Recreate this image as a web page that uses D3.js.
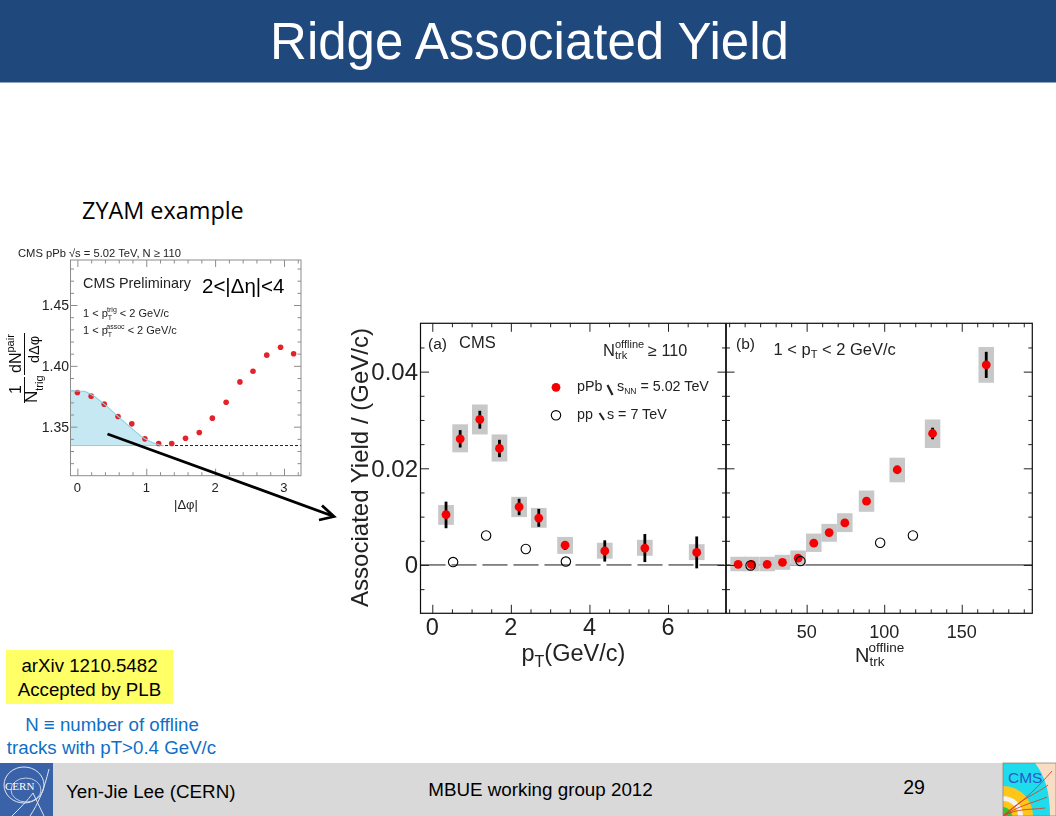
<!DOCTYPE html>
<html><head><meta charset="utf-8"><script src="https://cdn.jsdelivr.net/npm/d3@7"></script>
<style>html,body{margin:0;padding:0;background:#fff;overflow:hidden}svg{display:block}text{font-family:"Liberation Sans",Arial,sans-serif}</style></head><body>
<svg id="c" width="1056" height="816"></svg>
<script>
// ZYAM example panel
const phi=[0,0.2,0.39,0.59,0.79,0.98,1.18,1.37,1.57,1.77,1.96,2.16,2.36,2.55,2.75,2.95,3.14];
const corr=[1.3781,1.3751,1.3685,1.3584,1.3523,1.340,1.3362,1.3362,1.3405,1.3452,1.357,1.3701,1.3868,1.3956,1.4088,1.4153,1.4099];
const zyamLevel=1.3345;
const fitPhi=[-0.1,0.1,0.2,0.39,0.59,0.79,0.98,1.18,1.25];
const fitVal=[1.3795,1.379,1.3765,1.3685,1.3584,1.3485,1.3400,1.3352,1.3345];
const zyamYTicks=[1.35,1.40,1.45];
const zyamXTicks=[0,1,2,3];
// Panel (a): yield vs pT
const ptA=[0.35,0.71,1.21,1.71,2.21,2.71,3.38,4.39,5.41,6.73];
const yieldA=[0.0104,0.0261,0.0301,0.0241,0.012,0.0097,0.0041,0.0029,0.0035,0.0026];
const statLoA=[0.0076,0.0243,0.0282,0.0223,0.0103,0.0079,0.0031,0.0007,0.0006,-0.0007];
const statHiA=[0.0131,0.0279,0.0319,0.0259,0.0137,0.0116,0.0049,0.0051,0.0064,0.0059];
const sysLoA=[0.0083,0.0233,0.027,0.0214,0.0099,0.0077,0.0023,0.0013,0.0019,0.001];
const sysHiA=[0.0124,0.0291,0.0332,0.027,0.0141,0.0118,0.0058,0.0046,0.0052,0.0043];
const ppPtA=[0.53,1.37,2.38,3.40];
const ppYieldA=[0.0006,0.0061,0.0033,0.0007];
// Panel (b): yield vs Ntrk
const nB=[5.8,14.4,24.5,34.4,44.5,54.6,64.5,74.6,88.6,108.4,131.2,165.8];
const yieldB=[0.00014,0.0001,0.00014,0.00055,0.0014,0.0045,0.0067,0.0087,0.0132,0.0197,0.0272,0.0414];
const statLoB=[0.00014,0.0001,0.00014,0.00055,0.0014,0.0045,0.0067,0.0087,0.0132,0.0197,0.026,0.0387];
const statHiB=[0.00014,0.0001,0.00014,0.00055,0.0014,0.0045,0.0067,0.0087,0.0132,0.0197,0.0284,0.0441];
const sysLoB=[-0.0013,-0.0013,-0.0013,-0.001,-0.0001,0.0027,0.0048,0.0068,0.011,0.0171,0.0242,0.0377];
const sysHiB=[0.0017,0.0017,0.0017,0.0021,0.003,0.0065,0.0085,0.0107,0.0154,0.0222,0.0301,0.0451];
const ppNB=[13.8,46,97.4,118.5];
const ppYieldB=[-0.0001,0.0008,0.0046,0.0061];
const yTicks=[0,0.02,0.04];
const yTickLabels=["0","0.02","0.04"];
const xTicksA=[0,2,4,6];
const xTicksB=[50,100,150];

const svg=d3.select("#c");
const FONT='"Liberation Sans",Arial,sans-serif';
const defs=svg.append("defs");
defs.append("filter").attr("id","soft").attr("x","-5%").attr("y","-5%").attr("width","110%").attr("height","110%").append("feGaussianBlur").attr("stdDeviation",0.45);
defs.append("filter").attr("id","soft2").attr("x","-5%").attr("y","-5%").attr("width","110%").attr("height","110%").append("feGaussianBlur").attr("stdDeviation",0.3);
function txt(g,x,y,s,size,o={}){const t=g.append("text").attr("x",x).attr("y",y).attr("font-size",size).attr("fill",o.fill||"#000").attr("text-anchor",o.anchor||"start").style("font-family",o.family||FONT).text(s);if(o.weight)t.attr("font-weight",o.weight);return t;}
function rich(g,x,y,pieces,color,anchor){const t=g.append("text").attr("x",x).attr("y",y).attr("fill",color||"#000").attr("text-anchor",anchor||"start");
 pieces.forEach(p=>{const s=t.append("tspan").attr("font-size",p[1]).text(p[0]);if(p[2])s.attr("dy",p[2]);if(p[3])s.attr("dx",p[3]);});return t;}

// slide chrome
svg.append("rect").attr("x",0).attr("y",0).attr("width",1056).attr("height",82.5).attr("fill","#1f497d");
txt(svg,529.5,58.5,"Ridge Associated Yield",51,{fill:"#fff",anchor:"middle"});
txt(svg,82,219,"ZYAM example",23.4,{family:'"Open Sans",sans-serif'});
svg.append("rect").attr("x",0).attr("y",763).attr("width",1056).attr("height",53).attr("fill","#d9d9d9");
svg.append("rect").attr("x",6).attr("y",650).attr("width",167).attr("height",54).attr("fill","#ffff66");
txt(svg,89.5,672,"arXiv 1210.5482",18.7,{anchor:"middle"});
txt(svg,89.5,695.5,"Accepted by PLB",18.7,{anchor:"middle"});
txt(svg,112,731,"N ≡ number of offline",18.7,{anchor:"middle",fill:"#0f6fc6"});
txt(svg,111.5,754,"tracks with pT>0.4 GeV/c",18.7,{anchor:"middle",fill:"#0f6fc6"});
txt(svg,66,797.5,"Yen-Jie Lee (CERN)",18.8);
txt(svg,540.5,796,"MBUE working group 2012",18.8,{anchor:"middle"});
txt(svg,914,794,"29",19.5,{anchor:"middle"});

// CERN logo
const cern=svg.append("g");
cern.append("rect").attr("x",0).attr("y",763).attr("width",53).attr("height",53).attr("fill","#3a62a8");
cern.append("ellipse").attr("cx",24).attr("cy",785).attr("rx",20).attr("ry",18).attr("fill","none").attr("stroke","#dfe6f3").attr("stroke-width",1);
cern.append("ellipse").attr("cx",26).attr("cy",790).attr("rx",15).attr("ry",12).attr("fill","none").attr("stroke","#dfe6f3").attr("stroke-width",.8);
cern.append("path").attr("d","M49 769 C44 790 38 804 30 816 M12 816 C20 808 28 800 33 793 M33 793 L44 816").attr("fill","none").attr("stroke","#dfe6f3").attr("stroke-width",1);
txt(cern,5,790,"CERN",11,{fill:"#fff",family:'"Liberation Serif",serif'});

// CMS logo
const cms=svg.append("g");
cms.append("rect").attr("x",1003).attr("y",763).attr("width",53).attr("height",53).attr("fill","#1fdcec");
cms.append("clipPath").attr("id","cl").append("rect").attr("x",1003).attr("y",763).attr("width",53).attr("height",53);
const cg=cms.append("g").attr("clip-path","url(#cl)");
cg.append("path").attr("d","M1035 763H1056V816H1050C1050 792 1045 776 1035 763Z").attr("fill","#f8dcc4");
cg.append("circle").attr("cx",1003).attr("cy",816).attr("r",30).attr("fill","#ffc61a");
cg.append("circle").attr("cx",1003).attr("cy",816).attr("r",20).attr("fill","#f2f2f2");
cg.append("circle").attr("cx",1003).attr("cy",816).attr("r",15).attr("fill","#ffc61a");
cg.append("circle").attr("cx",1003).attr("cy",816).attr("r",9).attr("fill","#35c435");
cg.append("path").attr("d","M1003 816C1025 800 1040 785 1052 771M1003 816C1022 798 1038 793 1048 785M1003 816C1022 804 1036 802 1047 797M1003 816C1018 808 1030 810 1045 808").attr("fill","none").attr("stroke","#d8402a").attr("stroke-width",.9);
txt(cms,1008,782.5,"CMS",15.5,{fill:"#2b58c8"});
cms.append("rect").attr("x",1003).attr("y",763).attr("width",53).attr("height",53).attr("fill","none").attr("stroke","#8a7a66").attr("stroke-width",.7);

// inward ticks on a chosen side via d3 axes
function ticks(g,scale,orient,pos,vals,len,color,w){
 const ax=(orient==="bottom"?d3.axisBottom:orient==="top"?d3.axisTop:orient==="left"?d3.axisLeft:d3.axisRight)(scale).tickValues(vals).tickSize(-len).tickFormat("");
 const n=g.append("g").attr("transform",(orient==="bottom"||orient==="top")?`translate(0,${pos})`:`translate(${pos},0)`).call(ax);
 n.select(".domain").remove();n.selectAll("line").attr("stroke",color).attr("stroke-width",w);n.selectAll("text").remove();
}
function seq(a,b,s){const o=[];const n=Math.round((b-a)/s);for(let i=0;i<=n;i++)o.push(+(a+i*s).toFixed(6));return o;}

// ZYAM panel
const zx=d3.scaleLinear().domain([-0.1,3.247]).range([70.5,301]);
const zy=d3.scaleLinear().domain([1.3097,1.487]).range([475.7,260]);
const z=svg.append("g").attr("filter","url(#soft)");
const area=d3.area().x((d,i)=>zx(fitPhi[i])).y0(zy(zyamLevel)).y1(d=>zy(d)).curve(d3.curveMonotoneX);
z.append("path").attr("d",area(fitVal)).attr("fill","#c6e8f3");
z.append("line").attr("x1",zx(-0.1)).attr("x2",zx(1.25)).attr("y1",zy(zyamLevel)).attr("y2",zy(zyamLevel)).attr("stroke","#8ad3e6").attr("stroke-width",1);
z.append("line").attr("x1",zx(1.2)).attr("x2",zx(3.247)).attr("y1",zy(zyamLevel)).attr("y2",zy(zyamLevel)).attr("stroke","#222").attr("stroke-width",1).attr("stroke-dasharray","3 2");
const zc="#8c8c8c";
const zyMinor=seq(1.32,1.48,0.01).filter(v=>!zyamYTicks.includes(v));
const zxMinor=seq(0,3.2,0.2).filter(v=>!zyamXTicks.includes(v));
ticks(z,zy,"left",70.5,zyMinor,3.5,zc,1);ticks(z,zy,"right",301,zyMinor,3.5,zc,1);
ticks(z,zy,"left",70.5,zyamYTicks,7,zc,1);ticks(z,zy,"right",301,zyamYTicks,7,zc,1);
ticks(z,zx,"bottom",475.7,zxMinor,3.5,zc,1);ticks(z,zx,"top",260,zxMinor,3.5,zc,1);
ticks(z,zx,"bottom",475.7,zyamXTicks,7,zc,1);ticks(z,zx,"top",260,zyamXTicks,7,zc,1);
z.append("rect").attr("x",70.5).attr("y",260).attr("width",230.5).attr("height",215.7).attr("fill","none").attr("stroke",zc).attr("stroke-width",1);
z.selectAll("circle.p").data(corr).join("circle").attr("class","p").attr("cx",(d,i)=>zx(phi[i])).attr("cy",d=>zy(d)).attr("r",2.8).attr("fill","#e3242b");
z.append("path").attr("d",d3.line().x((d,i)=>zx(fitPhi[i])).y(d=>zy(d)).curve(d3.curveMonotoneX)(fitVal)).attr("fill","none").attr("stroke","#8ad3e6").attr("stroke-width",1.1);
zyamYTicks.forEach(v=>txt(z,69,zy(v)+5,v.toFixed(2),14,{anchor:"end",fill:"#222"}));
zyamXTicks.forEach(v=>txt(z,zx(v),492,String(v),13,{anchor:"middle",fill:"#222"}));
txt(z,186,509,"|Δφ|",13,{anchor:"middle",fill:"#222"});
rich(z,18,257,[["CMS pPb √s = 5.02 TeV, N ≥ 110",11.2]],"#222");
txt(z,83,288,"CMS Preliminary",14.4,{fill:"#222"});
txt(z,202,293,"2<|Δη|<4",20.5);
rich(z,83,317,[["1 < p",11],["T",7,3],["trig",7,-8,-5],[" < 2 GeV/c",11,5]],"#222");
rich(z,83,334,[["1 < p",11],["T",7,3],["assoc",7,-8,-5],[" < 2 GeV/c",11,5]],"#222");
// rotated fraction label
const zl=z.append("g");
function rot(g,x,y,pieces,anchor){return rich(g,0,0,pieces,"#111",anchor||"start").attr("transform",`translate(${x},${y}) rotate(-90)`);}
rot(zl,21,389.5,[["1",16]],"middle");
rot(zl,37,403,[["N",17],["trig",11,6]]);
rot(zl,21,373,[["dN",16],["pair",11,-7]]);
rot(zl,39,363,[["dΔφ",14.5]]);
zl.append("line").attr("x1",24.5).attr("x2",24.5).attr("y1",377).attr("y2",403).attr("stroke","#111").attr("stroke-width",1);
zl.append("line").attr("x1",24.5).attr("x2",24.5).attr("y1",333).attr("y2",375).attr("stroke","#111").attr("stroke-width",1);

// arrow
const ar=svg.append("g");
ar.append("path").attr("d","M107.5 434L334 516.5M322 505.5L334 516.5L319 520").attr("fill","none").attr("stroke","#000").attr("stroke-width",2.8);

// right panels
const plotTop=323.3,plotBot=613.3;
const y=d3.scaleLinear().domain([-0.01,0.05]).range([plotBot,plotTop]);
const xa=d3.scaleLinear().domain([-0.3,7.45]).range([420.5,725]);
const xb=d3.scaleLinear().domain([-1.7,195.5]).range([726.5,1032.3]);
const yMinor=seq(-0.005,0.045,0.005).filter(v=>!yTicks.includes(v));
const p=svg.append("g").attr("filter","url(#soft2)");
function panel(x,xs,lo,hi,stLo,stHi,val,hw,ppX,ppY){
 const g=p.append("g");
 g.selectAll("rect.s").data(val).join("rect").attr("class","s").attr("x",(d,i)=>x(xs[i]-hw)).attr("width",(d,i)=>x(xs[i]+hw)-x(xs[i]-hw)).attr("y",(d,i)=>y(hi[i])).attr("height",(d,i)=>y(lo[i])-y(hi[i])).attr("fill","#c8c8c8");
 g.selectAll("line.e").data(val).join("line").attr("class","e").attr("x1",(d,i)=>x(xs[i])).attr("x2",(d,i)=>x(xs[i])).attr("y1",(d,i)=>y(stLo[i])).attr("y2",(d,i)=>y(stHi[i])).attr("stroke","#000").attr("stroke-width",2.8);
 g.selectAll("circle.r").data(val).join("circle").attr("class","r").attr("cx",(d,i)=>x(xs[i])).attr("cy",d=>y(d)).attr("r",4.4).attr("fill","#f40000");
 g.selectAll("circle.o").data(ppY).join("circle").attr("class","o").attr("cx",(d,i)=>x(ppX[i])).attr("cy",d=>y(d)).attr("r",4.7).attr("fill","none").attr("stroke","#000").attr("stroke-width",1.1);
 return g;
}
p.append("line").attr("x1",420.5).attr("x2",726).attr("y1",y(0)).attr("y2",y(0)).attr("stroke","#111").attr("stroke-width",1).attr("stroke-dasharray","25 6");
p.append("line").attr("x1",726).attr("x2",1032.3).attr("y1",y(0)).attr("y2",y(0)).attr("stroke","#111").attr("stroke-width",1);
panel(xa,ptA,sysLoA,sysHiA,statLoA,statHiA,yieldA,0.2,ppPtA,ppYieldA);
panel(xb,nB,sysLoB,sysHiB,statLoB,statHiB,yieldB,5,ppNB,ppYieldB);
const tc="#222",majL=8.5,minL=4;
const xaMinor=seq(0,7,0.5).filter(v=>!xTicksA.includes(v));
const xbMinor=seq(0,190,10).filter(v=>!xTicksB.includes(v));
ticks(p,xa,"bottom",plotBot,xaMinor,minL,tc,1);ticks(p,xa,"top",plotTop,xaMinor,minL,tc,1);
ticks(p,xa,"bottom",plotBot,xTicksA,majL,tc,1);ticks(p,xa,"top",plotTop,xTicksA,majL,tc,1);
ticks(p,xb,"bottom",plotBot,xbMinor,minL,tc,1);ticks(p,xb,"top",plotTop,xbMinor,minL,tc,1);
ticks(p,xb,"bottom",plotBot,xTicksB,majL,tc,1);ticks(p,xb,"top",plotTop,xTicksB,majL,tc,1);
ticks(p,y,"left",420.5,yMinor,minL,tc,1);ticks(p,y,"left",420.5,yTicks,majL,tc,1);
ticks(p,y,"right",726,yMinor,minL,tc,1);ticks(p,y,"right",726,yTicks,majL,tc,1);
ticks(p,y,"left",726,yMinor,minL,tc,1);ticks(p,y,"left",726,yTicks,majL,tc,1);
ticks(p,y,"right",1032.3,yMinor,minL,tc,1);ticks(p,y,"right",1032.3,yTicks,majL,tc,1);
p.append("rect").attr("x",420.5).attr("y",plotTop).attr("width",611.8).attr("height",plotBot-plotTop).attr("fill","none").attr("stroke","#111").attr("stroke-width",1.2);
p.append("line").attr("x1",726).attr("x2",726).attr("y1",plotTop).attr("y2",plotBot).attr("stroke","#111").attr("stroke-width",1.8);
yTicks.forEach((v,i)=>txt(p,418,y(v)+8.5,yTickLabels[i],24,{anchor:"end",fill:"#222"}));
xTicksA.forEach(v=>txt(p,xa(v),634.5,String(v),23.5,{anchor:"middle",fill:"#222"}));
xTicksB.forEach(v=>txt(p,xb(v),638,String(v),18,{anchor:"middle",fill:"#222"}));
txt(p,0,0,"Associated Yield / (GeV/c)",24,{anchor:"middle",fill:"#222"}).attr("transform","translate(368,467.5) rotate(-90)");
rich(p,521.5,661,[["p",23.5],["T",16,6],["(GeV/c)",23.5,-6]],"#222");
rich(p,855,662,[["N",20],["trk",13.5,4]],"#222");
txt(p,868.5,652,"offline",13.5,{fill:"#222"});
txt(p,428,349,"(a)",15.5,{fill:"#222"});txt(p,459,348,"CMS",16.5,{fill:"#222"});
rich(p,603,356,[["N",16.5],["trk",11,3]],"#222");
txt(p,615,348,"offline",11,{fill:"#222"});
txt(p,648,356,"≥ 110",16.2,{fill:"#222"});
txt(p,736,349,"(b)",15.5,{fill:"#222"});
rich(p,773.5,355,[["1 < p",16.5],["T",11,3],[" < 2 GeV/c",16.5,-3]],"#222");
p.append("circle").attr("cx",556).attr("cy",387.3).attr("r",4.4).attr("fill","#f40000");
p.append("circle").attr("cx",556).attr("cy",415.3).attr("r",4.7).attr("fill","none").attr("stroke","#000").attr("stroke-width",1.1);
txt(p,577,391,"pPb",14.3,{fill:"#222"});
p.append("line").attr("x1",607.5).attr("x2",612.5).attr("y1",385).attr("y2",395).attr("stroke","#222").attr("stroke-width",2.2);
rich(p,617,391,[["s",14.3],["NN",8.5,3],[" = 5.02 TeV",14.3,-3]],"#222");
txt(p,577,419,"pp",14.3,{fill:"#222"});
p.append("line").attr("x1",599.5).attr("x2",604).attr("y1",413).attr("y2",420).attr("stroke","#222").attr("stroke-width",2);
txt(p,607,419,"s = 7 TeV",14.3,{fill:"#222"});
</script></body></html>
